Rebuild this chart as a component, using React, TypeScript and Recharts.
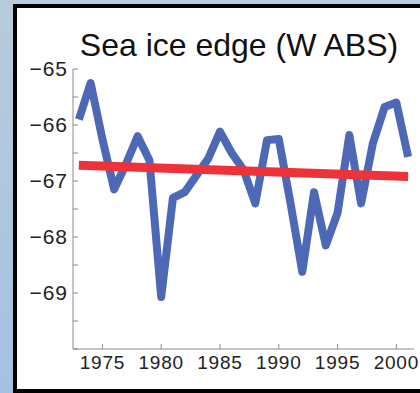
import { LineChart, Line, XAxis, YAxis } from "recharts";

const years = [
  1973, 1974, 1975, 1976, 1977, 1978, 1979, 1980, 1981, 1982, 1983, 1984, 1985, 1986, 1987,
  1988, 1989, 1990, 1991, 1992, 1993, 1994, 1995, 1996, 1997, 1998, 1999, 2000, 2001,
];
const iceEdge = [
  -65.9, -65.25, -66.25, -67.15, -66.7, -66.2, -66.63, -69.07, -67.3, -67.2, -66.9, -66.6,
  -66.12, -66.5, -66.8, -67.4, -66.27, -66.25, -67.4, -68.62, -67.2, -68.15, -67.57, -66.18,
  -67.4, -66.33, -65.68, -65.6, -66.57,
];
// linear fit, only the two ends
const trend: (number | null)[] = years.map(() => null);
trend[0] = -66.72;
trend[trend.length - 1] = -66.92;

const xTicks = [1975, 1980, 1985, 1990, 1995, 2000];
const yTicks = [-70, -69.5, -69, -68.5, -68, -67.5, -67, -66.5, -66, -65.5, -65];

const data = years.map((year, i) => ({ year, edge: iceEdge[i], trend: trend[i] }));

const axisColor = "#8a8a8a";
const font = "'Liberation Sans', Arial, Helvetica, sans-serif";

const fmtY = (v: number) => (Number.isInteger(v) && v > -70 ? `\u2212${Math.abs(v)}` : "");

export default function App() {
  return (
    <div
      style={{
        position: "absolute",
        left: 0,
        top: 0,
        width: 420,
        height: 393,
        overflow: "hidden",
        background: "linear-gradient(to bottom, #b9cbdc, #a3c2e2)",
        fontFamily: font,
      }}
    >
      <div
        style={{
          position: "absolute",
          left: 13,
          top: 4,
          width: 440,
          height: 389,
          boxSizing: "border-box",
          border: "4px solid #000",
          background: "#fff",
        }}
      />
      <div
        style={{
          position: "absolute",
          left: 39,
          width: 400,
          top: 25,
          textAlign: "center",
          fontSize: 32,
          lineHeight: "40px",
          color: "#111",
        }}
      >
        Sea ice edge (W ABS)
      </div>
      <div style={{ position: "absolute", left: 0, top: 0 }}>
        <LineChart width={420} height={393} data={data} margin={{ top: 69, right: 6, bottom: 14, left: 13 }}>
          <XAxis
            dataKey="year"
            type="number"
            domain={[1972.5, 2001.5]}
            ticks={xTicks}
            height={30}
            tickSize={-5}
            tickMargin={12}
            stroke={axisColor}
            tick={{ fill: "#222", fontSize: 19, fontFamily: font, letterSpacing: 0.8 }}
          />
          <XAxis
            xAxisId="top"
            dataKey="year"
            type="number"
            orientation="top"
            domain={[1972.5, 2001.5]}
            ticks={xTicks}
            height={0}
            tickSize={-5}
            tick={false}
            stroke={axisColor}
          />
          <YAxis
            type="number"
            domain={[-70, -65]}
            ticks={yTicks}
            width={60}
            tickSize={-5}
            tickMargin={10}
            tickFormatter={fmtY}
            interval={0}
            stroke={axisColor}
            tick={{ fill: "#222", fontSize: 21, fontFamily: font, letterSpacing: 1 }}
          />
          <YAxis
            yAxisId="right"
            type="number"
            orientation="right"
            domain={[-70, -65]}
            ticks={yTicks}
            width={0}
            tickSize={-5}
            tick={false}
            interval={0}
            stroke={axisColor}
          />
          <Line
            type="linear"
            dataKey="edge"
            stroke="#4d69b6"
            strokeWidth={8}
            strokeLinejoin="round"
            dot={false}
            activeDot={false}
            isAnimationActive={false}
          />
          <Line
            type="linear"
            dataKey="trend"
            stroke="#ee3239"
            strokeWidth={9}
            connectNulls
            dot={false}
            activeDot={false}
            isAnimationActive={false}
          />
        </LineChart>
      </div>
    </div>
  );
}
